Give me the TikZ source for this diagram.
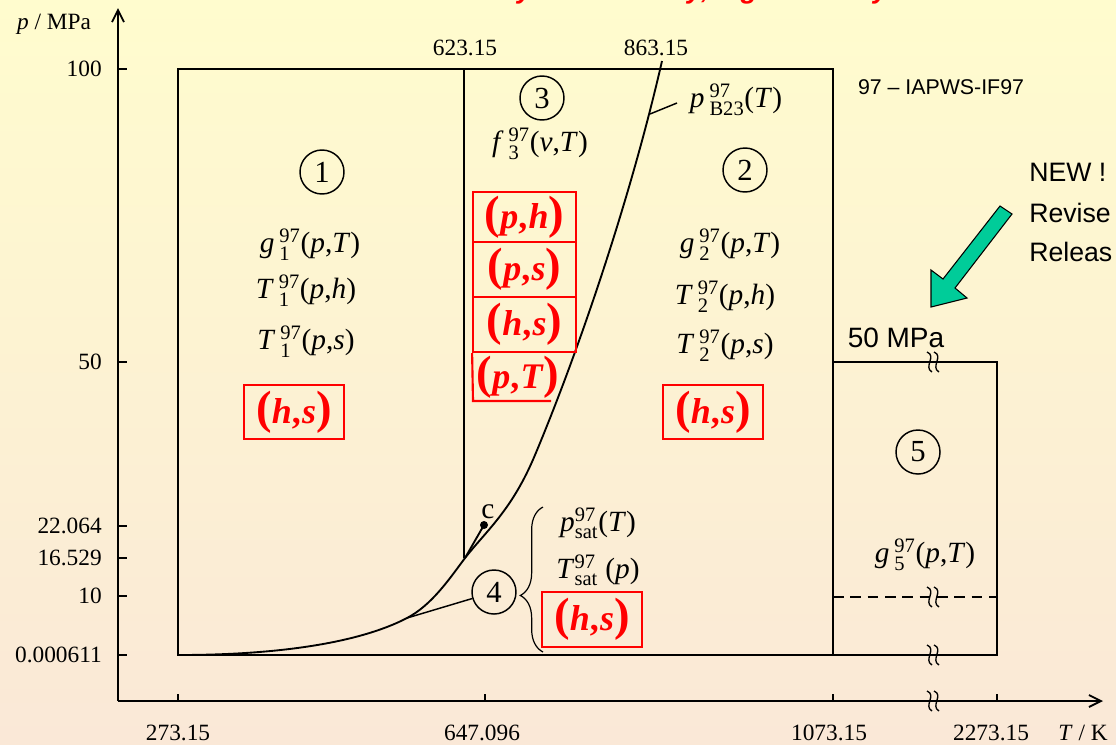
\documentclass[tikz,border=0pt]{standalone}
\usepackage{fontspec}
\usepackage{amsmath}
\setmainfont{Liberation Serif}
\newfontfamily\arialf{Liberation Sans}
\usetikzlibrary{arrows.meta,decorations.pathreplacing,calc}
\definecolor{bgtop}{RGB}{255,252,206}
\definecolor{bgbot}{RGB}{250,232,215}
\definecolor{newgreen}{RGB}{0,204,153}
\newcommand\fnl[3]{\textit{#1}\,$^{\text{97}}_{\text{#2}}$(#3)}
\newcommand\ip[1]{\textit{#1}}
\newcommand\bigp[1]{{\fontsize{35}{35}\selectfont #1}}
\newcommand\rpair[2]{\bigp{(}\textit{#1},\kern1pt\textit{#2}\bigp{)}}
\tikzset{
  brkmark/.pic={
    \draw[line width=1pt] (-6,-10) .. controls (4,-6) and (-10,5) .. (-1,10);
    \draw[line width=1pt] (1,-10) .. controls (11,-6) and (-3,5) .. (6,10);
  }
}
\begin{document}
\begin{tikzpicture}[x=0.75pt,y=-0.75pt,
  axline/.style={line width=1.4pt},
  thinline/.style={line width=1.1pt},
  circnum/.style={circle,draw,line width=1.1pt,minimum size=33pt,inner sep=0pt,font=\fontsize{23}{23}\selectfont},
  fnlab/.style={font=\fontsize{22}{22}\selectfont, inner sep=0pt},
  ticklab/.style={font=\fontsize{17.5}{17.5}\selectfont, inner sep=0pt},
  redbox/.style={draw=red, line width=1.6pt, text=red, minimum width=75pt, minimum height=41pt, inner sep=0pt, font=\fontsize{27}{27}\selectfont\bfseries},
  redtext/.style={text=red, inner sep=0pt, font=\fontsize{27}{27}\selectfont\bfseries},
  sansl/.style={font=\arialf\fontsize{20}{20}\selectfont, inner sep=0pt},
]
\useasboundingbox (0,0) rectangle (1116,744);
\clip (0,0) rectangle (1116,744);
\shade[top color=bgtop, bottom color=bgbot] (0,0) rectangle (1116,744);

% cut-off title
\node[anchor=base west, text=red, inner sep=0pt, font=\arialf\bfseries\itshape\fontsize{20.5}{20.5}\selectfont] (title) at (409,-2) {Accuracy Consistency, high Stability};

% axes
\draw[axline,-{Straight Barb[length=9pt,width=9pt]}] (118,701) -- (1103,701);
\draw[axline,-{Straight Barb[length=9pt,width=9pt]}] (118,701) -- (118,8);
\node[ticklab] (plab) at (54,24) {\ip{p} / MPa};
\node[ticklab] (tlab) at (1083,733) {\ip{T} / K};

% y ticks
\foreach \yy/\lab in {69/100, 362/50, 526/22.064, 558/16.529, 596/10, 655/0.000611}{
  \draw[axline] (118,\yy) -- (127,\yy);
  \node[ticklab, anchor=east] at (102,\yy) {\lab};
}
% x ticks
\foreach \xx/\lx/\lab in {178/178/273.15, 485/482/647.096, 833/829/1073.15, 997/991/2273.15}{
  \draw[axline] (\xx,701) -- (\xx,694);
  \node[ticklab] at (\lx,733) {\lab};
}
\node[ticklab] (t623) at (465,48) {623.15};
\node[ticklab] (t863) at (656,48) {863.15};

% main box
\draw[axline] (178,69) rectangle (833,655);
\draw[axline] (464,69) -- (464,558);
% region 5
\draw[axline] (833,362) -- (997,362) -- (997,655) -- (833,655);
\draw[thinline, dash pattern=on 8pt off 5pt] (833,597) -- (997,597);
\foreach \yy in {362,597,655,701}{ \pic at (933,\yy) {brkmark}; }

% saturation + B23 curve
\coordinate (junc) at (465,558);
\coordinate (sat4) at (407,618);
\coordinate (b23pt) at (650,114);
\coordinate (b23lead) at (677,103);
\coordinate (cpt) at (484,525);
\draw[axline] (178,655) .. controls (290,655) and (365,640) .. (sat4)
  .. controls (432,605) and (450,578) .. (junc)
  .. controls (487,530) and (512,510) .. (535,455)
  .. controls (577,355) and (630,201) .. (662,61);
\draw[axline] (junc) -- (cpt);
\fill (cpt) circle (4);
\node[fnlab] (clab) at (488,512) {c};

% region 1
\node[circnum] (c1) at (322,172) {1};
\node[fnlab] (g1) at (310,245) {\fnl{g}{1}{\ip{p},\ip{T}}};
\node[fnlab] (T1h) at (306,291) {\fnl{T}{1}{\ip{p},\ip{h}}};
\node[fnlab] (T1s) at (306,342) {\fnl{T}{1}{\ip{p},\ip{s}}};
\node[redbox] (r1) at (294,412) {\rpair{h}{s}};

% region 2
\node[circnum] (c2) at (745,170) {2};
\node[fnlab] (g2) at (730,245) {\fnl{g}{2}{\ip{p},\ip{T}}};
\node[fnlab] (T2h) at (725,297) {\fnl{T}{2}{\ip{p},\ip{h}}};
\node[fnlab] (T2s) at (725,346) {\fnl{T}{2}{\ip{p},\ip{s}}};
\node[redbox] (r2) at (713,412) {\rpair{h}{s}};

% region 3
\node[circnum] (c3) at (542,98) {3};
\node[fnlab] (f3) at (540,144) {\fnl{f}{3}{\ip{v},\ip{T}}};
\node[redbox, minimum width=77pt, minimum height=37.5pt] (b1) at (524.5,217) {\rpair{p}{h}};
\node[redbox, minimum width=77pt, minimum height=41.25pt] (b2) at (524.5,269.5) {\rpair{p}{s}};
\node[redbox, minimum width=77pt, minimum height=41.25pt] (b3) at (524.5,324.5) {\rpair{h}{s}};
\node[redtext] (b4) at (518,377) {\rpair{p}{T}};
\draw[red, line width=1.6pt] (b3.south west) -- (473,401) -- (551,401);
\node[fnlab] (b23) at (736,100) {\ip{p}\,$^{\text{97}}_{\text{B23}}$(\ip{T})};
\draw[thinline] (b23pt) -- (b23lead);

% region 4
\node[circnum] (c4) at (494,592) {4};
\draw[thinline] (c4) -- (sat4);
\draw[line width=0.9pt, decorate, decoration={brace, amplitude=17pt, aspect=0.39}] (543,652) -- (543,507);
\node[fnlab] (psat) at (598,523) {\ip{p}$^{\text{97}}_{\text{sat}}$(\ip{T})};
\node[fnlab] (Tsat) at (598,570) {\ip{T}$^{\text{97}}_{\text{sat}}$ (\ip{p})};
\node[redbox] (r4) at (592,619.5) {\rpair{h}{s}};

% region 5
\node[circnum] (c5) at (918,452) {5};
\node[fnlab] (g5) at (925,555) {\fnl{g}{5}{\ip{p},\ip{T}}};
\node[sansl, font=\arialf\fontsize{21}{21}\selectfont] (mpa50) at (896,338) {50 MPa};

% legend and NEW
\node[sansl, font=\arialf\fontsize{16}{16}\selectfont] (iapws) at (941,87) {97 \textendash{} IAPWS-IF97};
\node[sansl, anchor=west] (new) at (1029,172) {NEW !};
\node[sansl, anchor=west] (rev) at (1029,213) {Revise};
\node[sansl, anchor=west] (rel) at (1029,252) {Releas};
\draw[fill=newgreen, line width=0.8pt] (1000,206) -- (943,279) -- (931,270) -- (931,307) -- (967,298) -- (955,288) -- (1012,214) -- cycle;
\end{tikzpicture}
\end{document}
